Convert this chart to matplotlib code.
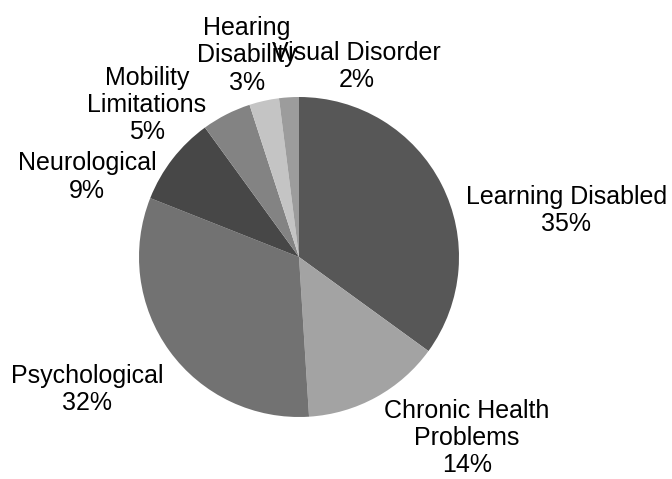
import numpy as np
import matplotlib.pyplot as plt

plt.rcParams['font.family'] = ['Liberation Sans', 'DejaVu Sans']

categories = ['Learning Disabled', 'Chronic Health\nProblems', 'Psychological',
              'Neurological', 'Mobility\nLimitations', 'Hearing\nDisability',
              'Visual Disorder']
values = [35, 14, 32, 9, 5, 3, 2]
colors = ['#575757', '#a3a3a3', '#727272', '#474747', '#838383', '#c4c4c4', '#9c9c9c']

# label centres, in pie-radius units
label_pos = [(1.67, 0.29), (1.05, -1.13), (-1.325, -0.83), (-1.325, 0.50),
             (-0.95, 0.95), (-0.325, 1.26), (0.36, 1.19)]

fig = plt.figure(figsize=(6.72, 4.79), dpi=100)
ax = fig.add_axes([0, 0, 1, 1])

ax.pie(values, colors=colors, startangle=90, counterclock=False,
       radius=1.0, wedgeprops=dict(linewidth=0))

total = float(sum(values))
for name, v, (x, y) in zip(categories, values, label_pos):
	ax.text(x, y, '{}\n{:.0f}%'.format(name, 100 * v / total), ha='center', va='center',
	        fontsize=18, linespacing=1.17, color='black')

# centre at (299, 257) px from top-left, radius 160 px
r = 160.
ax.set_xlim(-299 / r, (672 - 299) / r)
ax.set_ylim(-(479 - 257) / r, 257 / r)
ax.set_aspect('auto')
ax.axis('off')

plt.savefig('out.png', dpi=100)
